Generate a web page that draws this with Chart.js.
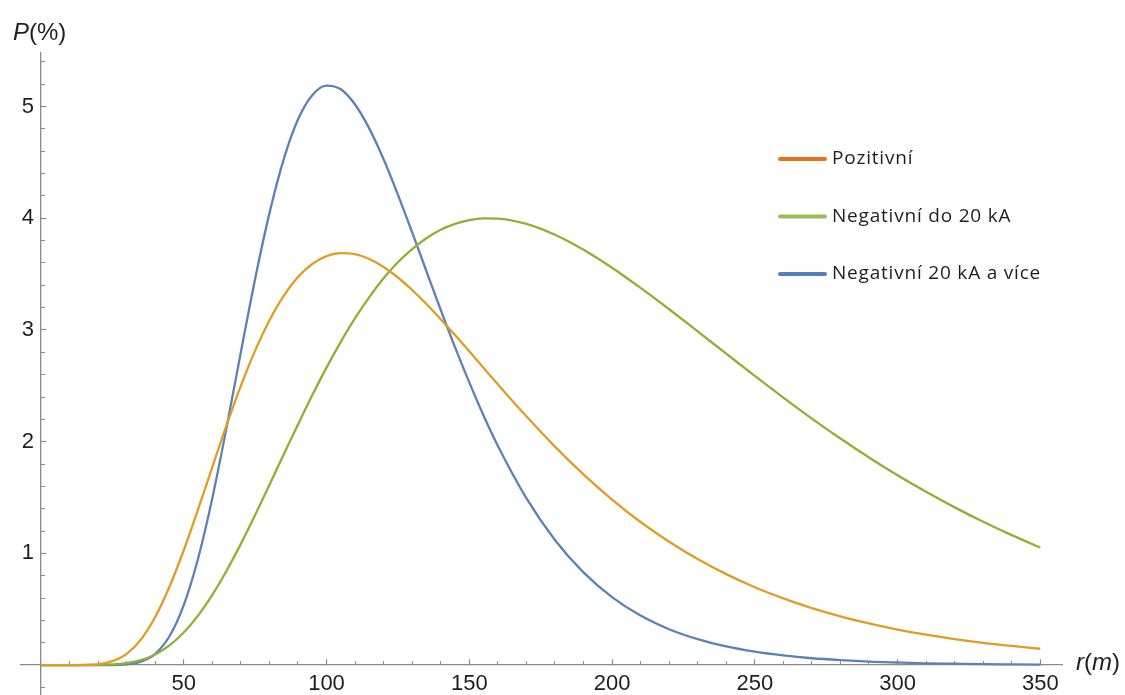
<!DOCTYPE html>
<html>
<head>
<meta charset="utf-8">
<script src="https://cdn.jsdelivr.net/npm/chart.js@4.4.1/dist/chart.umd.min.js"></script>
<style>
  html, body { margin: 0; padding: 0; background: #fff; }
  #chart { display: block; }
</style>
</head>
<body>
<canvas id="chart" width="1125" height="695"></canvas>
<script>
// r (m)
const rValues = [0, 10, 20, 25, 30, 35, 40, 45, 50, 55, 60, 65, 70, 75, 80, 85, 90, 95, 100, 105, 110,
    115, 120, 125, 130, 135, 140, 145, 150, 155, 160, 170, 180, 190, 200, 210, 220, 230, 240,
    250, 260, 270, 280, 290, 300, 310, 320, 330, 340, 350];

// P (%)
const pozitivni = [0, 0, 0.007, 0.035, 0.100, 0.229, 0.430, 0.701, 1.028, 1.393, 1.773, 2.148, 2.500,
    2.815, 3.085, 3.306, 3.474, 3.591, 3.662, 3.689, 3.679, 3.635, 3.564, 3.470, 3.358, 3.233,
    3.097, 2.955, 2.809, 2.661, 2.514, 2.227, 1.956, 1.707, 1.482, 1.281, 1.104, 0.949, 0.814,
    0.697, 0.597, 0.510, 0.436, 0.373, 0.318, 0.272, 0.233, 0.199, 0.171, 0.146];
const negativniDo20 = [0, 0, 0.001, 0.005, 0.017, 0.044, 0.095, 0.176, 0.292, 0.443, 0.629, 0.845, 1.085,
    1.343, 1.612, 1.885, 2.153, 2.415, 2.663, 2.894, 3.106, 3.295, 3.463, 3.606, 3.725, 3.822,
    3.897, 3.950, 3.983, 3.999, 3.998, 3.950, 3.853, 3.719, 3.558, 3.377, 3.186, 2.988, 2.788,
    2.589, 2.395, 2.207, 2.028, 1.859, 1.700, 1.551, 1.412, 1.283, 1.163, 1.052];
const negativni20Vice = [0, 0, 0, 0, 0.006, 0.030, 0.101, 0.258, 0.537, 0.952, 1.494, 2.127, 2.801,
    3.457, 4.044, 4.528, 4.884, 5.102, 5.188, 5.155, 5.019, 4.803, 4.528, 4.212, 3.874, 3.526,
    3.181, 2.847, 2.531, 2.235, 1.964, 1.495, 1.120, 0.830, 0.609, 0.443, 0.321, 0.232, 0.167,
    0.120, 0.086, 0.061, 0.044, 0.031, 0.023, 0.016, 0.012, 0.008, 0.006, 0.004];

const seriesNames = ['Pozitivní', 'Negativní do 20 kA', 'Negativní 20 kA a více'];
const xTickLabels = [50, 100, 150, 200, 250, 300, 350];
const yTickLabels = [1, 2, 3, 4, 5];

const lineColors = ['#E19C24', '#8FB032', '#5E81B5'];
const legendColors = ['#E6731C', '#9BBB59', '#4F81BD'];
const axisGray = '#8a8a8a';
const textColor = '#1f1f1f';

Chart.defaults.font.family = '"Liberation Sans", Arial, sans-serif';

const X_MIN = -7, X_MAX = 357.6;
const Y_MIN = -0.268, Y_MAX = 5.48;

function toPoints(vals) {
    return rValues.map((r, i) => ({ x: r, y: vals[i] }));
}

function noPad(scale) {
    scale.paddingTop = 0;
    scale.paddingBottom = 0;
    scale.paddingLeft = 0;
    scale.paddingRight = 0;
}

// axis titles with italic variables, and the legend drawn inside the plot
const extras = {
    id: 'extras',
    afterDraw(chart) {
        const ctx = chart.ctx;
        ctx.save();
        ctx.fillStyle = textColor;
        ctx.textBaseline = 'middle';

        function mixed(parts, x, y) {
            parts.forEach(p => {
                ctx.font = (p[1] ? 'italic ' : '') + '24px "Liberation Sans", Arial, sans-serif';
                ctx.fillText(p[0], x, y);
                x += ctx.measureText(p[0]).width;
            });
        }
        mixed([['P', true], ['(%)', false]], 13, 33);
        mixed([['r', true], ['(', false], ['m', true], [')', false]], 1076, 663);

        chart.data.datasets.forEach((ds, i) => {
            const y = 159 + i * 57.5;
            ctx.strokeStyle = legendColors[i];
            ctx.lineWidth = 4;
            ctx.lineCap = 'round';
            ctx.beginPath();
            ctx.moveTo(780, y);
            ctx.lineTo(825, y);
            ctx.stroke();
            ctx.fillStyle = textColor;
            ctx.font = '19px "Open Sans", sans-serif';
            ctx.letterSpacing = '0.8px';
            ctx.fillText(ds.label, 832, y);
            ctx.letterSpacing = '0px';
        });
        ctx.restore();
    }
};

const series = [pozitivni, negativniDo20, negativni20Vice];

new Chart(document.getElementById('chart'), {
    type: 'line',
    data: {
        datasets: series.map((vals, i) => ({
            label: seriesNames[i],
            data: toPoints(vals),
            borderColor: lineColors[i],
            borderWidth: 2.3,
            pointRadius: 0,
            fill: false,
            cubicInterpolationMode: 'monotone'
        }))
    },
    options: {
        responsive: false,
        animation: false,
        devicePixelRatio: 1,
        layout: { padding: { left: 21, right: 63, top: 53, bottom: 0 } },
        plugins: { legend: { display: false }, tooltip: { enabled: false } },
        scales: {
            x: {
                type: 'linear',
                min: X_MIN, max: X_MAX,
                position: { y: 0 },
                afterBuildTicks: s => { s.ticks = xTickLabels.map(v => ({ value: v })); },
                afterFit: noPad,
                ticks: { autoSkip: false, padding: 12, color: textColor, font: { size: 22 } },
                grid: { drawOnChartArea: false, drawTicks: true, tickLength: -6, color: axisGray, tickWidth: 1.2 },
                border: { color: axisGray, width: 1.3 }
            },
            xMinor: {
                type: 'linear',
                min: X_MIN, max: X_MAX,
                position: { y: 0 },
                afterFit: noPad,
                ticks: { display: false, stepSize: 10, includeBounds: false, autoSkip: false },
                grid: { drawOnChartArea: false, drawTicks: true, tickLength: -4, color: axisGray, tickWidth: 1 },
                border: { display: false }
            },
            y: {
                type: 'linear',
                min: Y_MIN, max: Y_MAX,
                position: { x: 0 },
                afterFit: noPad,
                ticks: { display: false, stepSize: 1, includeBounds: false },
                grid: { drawOnChartArea: false, drawTicks: true, tickLength: -6, color: axisGray, tickWidth: 1.2 },
                border: { color: axisGray, width: 1.3 }
            },
            yMinor: {
                type: 'linear',
                min: Y_MIN, max: Y_MAX,
                position: { x: 0 },
                afterFit: noPad,
                ticks: { display: false, stepSize: 0.2, includeBounds: false },
                grid: { drawOnChartArea: false, drawTicks: true, tickLength: -4, color: axisGray, tickWidth: 1 },
                border: { display: false }
            },
            yLabels: {
                type: 'linear',
                min: Y_MIN, max: Y_MAX,
                position: { x: -2.45 },
                afterBuildTicks: s => { s.ticks = yTickLabels.map(v => ({ value: v })); },
                afterFit: noPad,
                ticks: { color: textColor, font: { size: 22 }, autoSkip: false },
                grid: { display: false },
                border: { display: false }
            }
        }
    },
    plugins: [extras]
});
</script>
</body>
</html>
